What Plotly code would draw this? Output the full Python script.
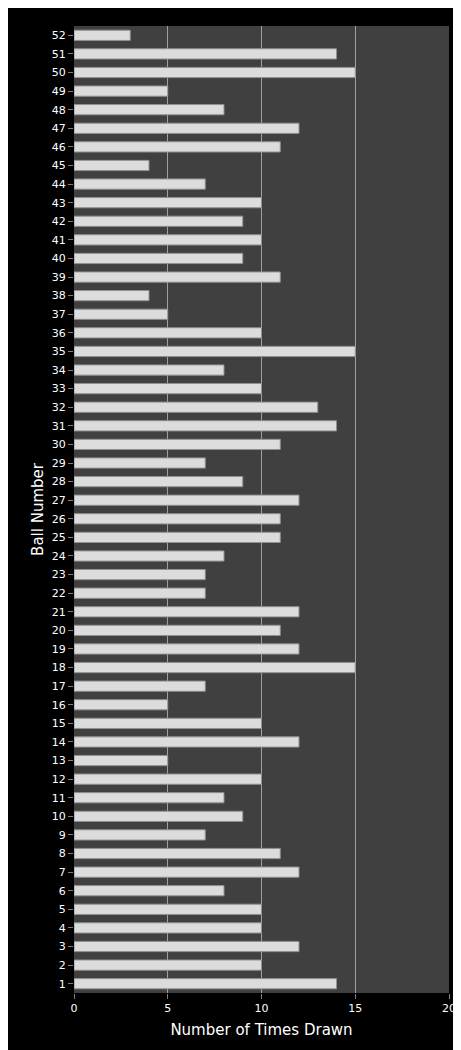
import plotly.graph_objects as go

balls = [str(i) for i in range(1, 53)]
times_drawn = [14, 10, 12, 10, 10, 8, 12, 11, 7, 9,
               8, 10, 5, 12, 10, 5, 7, 15, 12, 11,
               12, 7, 7, 8, 11, 11, 12, 9, 7, 11,
               14, 13, 10, 8, 15, 10, 5, 4, 11, 9,
               10, 9, 10, 7, 4, 11, 12, 8, 5, 15,
               14, 3]

fig = go.Figure(go.Bar(
    x=times_drawn, y=balls, orientation="h",
    marker=dict(color="#dcdcdc", line=dict(color="#909090", width=1)),
    width=0.55,
))

fig.update_layout(
    width=461, height=1050,
    paper_bgcolor="black", plot_bgcolor="#404040",
    margin=dict(l=66, r=20, t=18, b=65),
    font=dict(family="DejaVu Sans", color="white", size=12),
    showlegend=False,
)
fig.update_xaxes(
    range=[0, 20], dtick=5, showgrid=True, gridcolor="#a0a0a0", gridwidth=1,
    zeroline=False, ticks="outside", tickcolor="#808080", automargin=False,
    title=dict(text="Number of Times Drawn", font=dict(size=15), standoff=10),
    tickfont=dict(size=11),
)
fig.update_yaxes(
    type="category", showgrid=False, ticks="outside", tickcolor="#808080",
    automargin=False,
    title=dict(text="Ball Number", font=dict(size=15), standoff=4),
    tickfont=dict(size=11),
)

fig.write_html("out.html")
